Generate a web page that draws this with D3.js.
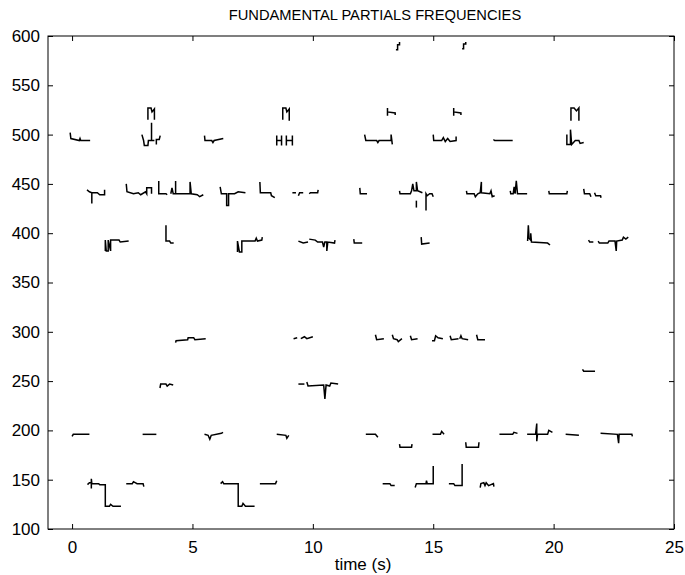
<!DOCTYPE html>
<html>
<head>
<meta charset="utf-8">
<script src="https://cdn.jsdelivr.net/npm/d3@7"></script>
<style>
  body { margin: 0; background: #fff; }
  text { font-family: "Liberation Sans", sans-serif; fill: #000; }
</style>
</head>
<body>
<div id="chart"></div>
<script>
// axis ranges and ticks
var xTicks = [0, 5, 10, 15, 20, 25];
var yTicks = [100, 150, 200, 250, 300, 350, 400, 450, 500, 550, 600];

// partial tracks, each a list of [time (s), frequency]
var row590 = [
  [[13.45, 586], [13.52, 586], [13.52, 591], [13.6, 591], [13.6, 594]],
  [[16.2, 587], [16.26, 587], [16.26, 592], [16.35, 592], [16.35, 594]]
];
var row525 = [
  [[3.15, 515], [3.15, 527], [3.28, 527], [3.32, 523], [3.42, 526], [3.42, 515]],
  [[8.75, 515], [8.75, 527], [8.88, 527], [8.92, 523], [9.02, 526], [9.02, 514]],
  [[13.1, 519], [13.1, 527], [13.1, 523], [13.42, 522], [13.42, 520]],
  [[15.85, 519], [15.85, 527], [15.85, 523], [16.15, 522], [16.15, 520]],
  [[20.72, 514], [20.72, 527], [20.85, 527], [20.95, 524], [21.05, 527], [21.05, 514]]
];
var row495 = [
  [[-0.08, 502], [-0.05, 496], [0.3, 494], [0.33, 496], [0.36, 494], [0.75, 494]],
  [[2.9, 500], [2.97, 494], [3.0, 489], [3.15, 489], [3.17, 494], [3.3, 494], [3.3, 512], [3.3, 494], [3.42, 494]],
  [[3.5, 490], [3.5, 495], [3.62, 495], [3.66, 499]],
  [[5.5, 499], [5.52, 494], [5.8, 494], [5.85, 492], [5.9, 494], [6.28, 496]],
  [[8.5, 489], [8.5, 499], [8.5, 494], [8.7, 494], [8.7, 499], [8.7, 489]],
  [[8.9, 489], [8.9, 499], [8.9, 494], [9.15, 494], [9.15, 499], [9.15, 489]],
  [[12.15, 500], [12.2, 494], [12.65, 494], [12.7, 492], [12.75, 494], [13.25, 494], [13.25, 500], [13.3, 490]],
  [[15.0, 500], [15.02, 494], [15.35, 494], [15.42, 497], [15.5, 493], [15.6, 496], [15.7, 493], [15.95, 494], [15.95, 498]],
  [[17.5, 495], [17.55, 494], [18.3, 494]],
  [[20.55, 500], [20.55, 490], [20.7, 490], [20.7, 505], [20.75, 490], [20.9, 494], [21.05, 494], [21.1, 491], [21.25, 492]]
];
var row440 = [
  [[0.62, 444], [0.72, 442], [0.82, 441], [0.82, 430], [0.82, 441], [1.05, 441], [1.15, 439], [1.35, 439], [1.35, 444]],
  [[2.25, 450], [2.28, 442], [2.55, 440], [2.75, 441], [2.85, 439], [3.05, 442], [3.1, 440], [3.1, 446], [3.3, 446], [3.3, 440]],
  [[3.6, 453], [3.6, 440], [3.9, 440], [3.95, 439]],
  [[4.1, 440], [4.15, 446], [4.2, 440], [4.3, 440], [4.3, 453], [4.3, 440], [4.9, 440], [4.9, 452], [4.95, 440], [5.2, 439], [5.3, 437], [5.45, 439]],
  [[6.15, 447], [6.2, 440], [6.42, 440], [6.42, 428], [6.5, 428], [6.5, 440], [6.75, 440], [6.9, 442], [7.2, 441]],
  [[7.8, 452], [7.82, 441], [8.25, 441], [8.28, 438], [8.42, 436]],
  [[9.15, 441], [9.3, 441]], [[9.4, 438], [9.45, 441], [9.6, 441]], [[9.85, 440], [9.9, 441], [10.2, 441], [10.22, 444]],
  [[11.95, 446], [11.97, 440], [12.25, 440]],
  [[13.6, 443], [13.62, 440], [14.05, 440], [14.1, 443], [14.15, 450], [14.2, 443], [14.3, 443], [14.3, 452], [14.35, 443], [14.55, 441]],
  [[14.3, 426], [14.3, 433]],
  [[14.7, 423], [14.7, 440], [14.75, 438], [14.85, 440], [14.95, 440], [15.0, 437]],
  [[16.38, 443], [16.4, 440], [16.7, 440], [16.75, 437], [16.85, 440], [16.95, 441], [17.0, 452], [17.0, 441], [17.35, 440], [17.4, 443], [17.45, 437], [17.55, 438]],
  [[18.2, 443], [18.22, 440], [18.32, 440], [18.36, 447], [18.4, 440], [18.45, 453], [18.5, 440], [18.9, 440]],
  [[19.8, 443], [19.82, 440], [20.55, 440], [20.57, 443]],
  [[21.25, 445], [21.28, 440], [21.5, 440], [21.55, 437]],
  [[21.7, 441], [21.75, 438], [21.95, 438], [21.97, 436]]
];
var row390 = [
  [[1.38, 382], [1.38, 393], [1.42, 382], [1.5, 382], [1.5, 393], [1.6, 382], [1.6, 393], [1.95, 393], [2.0, 391], [2.35, 392]],
  [[3.9, 408], [3.9, 392], [4.05, 392], [4.1, 390], [4.22, 390]],
  [[6.87, 381], [6.87, 392], [6.95, 381], [7.05, 381], [7.05, 392], [7.6, 392], [7.65, 395], [7.7, 392], [7.88, 393], [7.9, 396]],
  [[9.4, 392], [9.6, 390], [9.8, 391]],
  [[9.85, 394], [10.1, 393], [10.2, 391], [10.4, 391], [10.45, 386], [10.5, 391], [10.58, 391], [10.58, 382], [10.62, 391], [10.9, 390], [10.92, 393]],
  [[11.7, 394], [11.72, 390], [12.05, 390]],
  [[14.5, 396], [14.52, 389], [14.85, 390]],
  [[18.92, 392], [18.95, 408], [18.98, 395], [19.05, 393], [19.05, 400], [19.08, 391], [19.75, 390], [19.85, 388]],
  [[21.45, 393], [21.5, 391], [21.65, 391]],
  [[21.85, 392], [21.9, 390], [22.25, 390], [22.3, 392], [22.55, 392], [22.6, 382], [22.62, 392], [22.85, 393], [22.9, 396], [23.0, 394], [23.1, 396]]
];
var row295 = [
  [[4.3, 289], [4.32, 291], [4.8, 292], [4.82, 294], [5.05, 294], [5.1, 292], [5.55, 293]],
  [[9.2, 293], [9.35, 294]], [[9.5, 293], [9.65, 295], [9.75, 293], [10.0, 295]],
  [[12.6, 297], [12.65, 292], [12.95, 293]],
  [[13.3, 297], [13.35, 293], [13.5, 292], [13.55, 290], [13.7, 293]],
  [[14.05, 296], [14.1, 292], [14.35, 293]],
  [[14.95, 291], [15.05, 291], [15.1, 296], [15.2, 294], [15.4, 293]],
  [[15.7, 296], [15.75, 292], [16.05, 293]],
  [[16.1, 293], [16.15, 296], [16.2, 293], [16.45, 292]],
  [[16.8, 297], [16.85, 292], [17.15, 292]]
];
var row245 = [
  [[3.65, 243], [3.68, 247], [3.9, 247], [3.95, 245], [4.05, 247], [4.2, 246]],
  [[9.4, 247], [9.65, 247]], [[9.75, 249], [9.8, 245], [10.45, 246], [10.5, 232], [10.55, 246], [10.7, 245], [10.75, 248], [11.05, 247]],
  [[21.2, 262], [21.25, 260], [21.72, 260]]
];
var row195 = [
  [[0.0, 194], [0.05, 196], [0.72, 196]],
  [[2.93, 196], [3.5, 196]],
  [[5.5, 196], [5.65, 195], [5.72, 191], [5.78, 195], [6.2, 197], [6.27, 198]],
  [[8.5, 196], [8.88, 195], [8.92, 192], [9.0, 195]],
  [[12.2, 196], [12.6, 196], [12.7, 193]],
  [[13.6, 186], [13.62, 183], [14.1, 183], [14.12, 186]],
  [[14.97, 196], [15.3, 196], [15.35, 199], [15.45, 196]],
  [[16.35, 188], [16.37, 183], [16.88, 183], [16.9, 188]],
  [[17.75, 196], [18.3, 196], [18.35, 198], [18.5, 197]],
  [[18.9, 196], [19.25, 196], [19.3, 207], [19.3, 189], [19.33, 196], [19.75, 196], [19.8, 200], [19.95, 198]],
  [[20.5, 196], [21.05, 195]],
  [[21.95, 197], [22.65, 196], [22.7, 187], [22.72, 196], [23.25, 196], [23.27, 194]]
];
var row145 = [
  [[0.64, 145], [0.72, 147], [0.8, 147], [0.8, 141], [0.8, 151], [0.82, 146], [1.1, 146], [1.15, 145], [1.38, 145], [1.38, 123], [1.55, 123], [1.6, 125], [1.7, 123], [2.03, 123]],
  [[2.25, 146], [2.5, 146], [2.55, 148], [2.7, 146], [2.95, 146], [2.98, 143]],
  [[6.17, 146], [6.25, 148], [6.3, 146], [6.9, 146], [6.9, 123], [7.05, 123], [7.1, 126], [7.2, 123], [7.58, 123]],
  [[7.8, 146], [8.45, 146], [8.5, 149]],
  [[12.9, 146], [13.2, 146], [13.25, 144], [13.4, 144]],
  [[14.25, 142], [14.3, 146], [14.7, 146], [14.72, 149], [14.75, 146], [15.0, 146], [15.0, 164]],
  [[15.65, 146], [15.85, 146], [15.9, 144], [16.2, 144], [16.2, 166]],
  [[16.95, 142], [16.98, 146], [17.1, 147], [17.15, 144], [17.2, 147], [17.3, 144], [17.5, 146], [17.52, 143]]
];

var tracks = [].concat(row590, row525, row495, row440, row390, row295, row245, row195, row145);

var width = 685, height = 575;
var margin = {left: 48, right: 11, top: 36, bottom: 46};

var svg = d3.select("#chart").append("svg")
    .attr("width", width).attr("height", height);

var x = d3.scaleLinear().domain([-1, 25]).range([margin.left, width - margin.right]);
var y = d3.scaleLinear().domain([100, 600]).range([height - margin.bottom, margin.top]);

// box
svg.append("rect")
    .attr("x", x(-1)).attr("y", y(600))
    .attr("width", x(25) - x(-1)).attr("height", y(100) - y(600))
    .attr("fill", "none").attr("stroke", "#000").attr("stroke-width", 1);

// axes with inward ticks (matlab style)
var xAxis = svg.append("g")
    .attr("transform", "translate(0," + y(100) + ")")
    .call(d3.axisBottom(x).tickValues(xTicks).tickSizeInner(-5).tickSizeOuter(0).tickPadding(12));
var xTop = svg.append("g")
    .attr("transform", "translate(0," + y(600) + ")")
    .call(d3.axisTop(x).tickValues(xTicks).tickSizeInner(-5).tickSizeOuter(0).tickFormat(""));
var yAxis = svg.append("g")
    .attr("transform", "translate(" + x(-1) + ",0)")
    .call(d3.axisLeft(y).tickValues(yTicks).tickSizeInner(-5).tickSizeOuter(0).tickPadding(8));
var yRight = svg.append("g")
    .attr("transform", "translate(" + x(25) + ",0)")
    .call(d3.axisRight(y).tickValues(yTicks).tickSizeInner(-5).tickSizeOuter(0).tickFormat(""));

[xAxis, xTop, yAxis, yRight].forEach(function(g) {
  g.select(".domain").remove();
  g.selectAll("line").attr("stroke", "#000");
  g.selectAll("text")
    .style("font-family", "Liberation Sans, sans-serif")
    .style("font-size", "17px")
    .attr("fill", "#000");
});

// tracks
var line = d3.line()
    .x(function(d) { return x(d[0]); })
    .y(function(d) { return y(d[1]); });

svg.append("g").selectAll("path")
    .data(tracks)
    .enter()
    .append("path")
    .attr("d", line)
    .attr("fill", "none")
    .attr("stroke", "#000")
    .attr("stroke-width", 1.5);

// title and label
svg.append("text")
    .attr("x", (x(-1) + x(25)) / 2 + 14)
    .attr("y", 20)
    .attr("text-anchor", "middle")
    .style("font-size", "14.7px")
    .text("FUNDAMENTAL PARTIALS FREQUENCIES");

svg.append("text")
    .attr("x", (x(-1) + x(25)) / 2 + 2)
    .attr("y", 570)
    .attr("text-anchor", "middle")
    .style("font-size", "17px")
    .text("time (s)");
</script>
</body>
</html>
